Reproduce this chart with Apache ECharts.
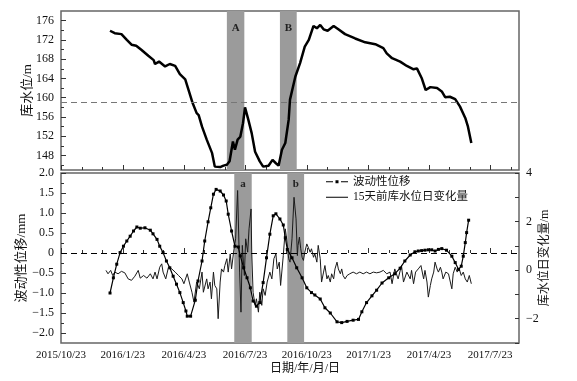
<!DOCTYPE html>
<html><head><meta charset="utf-8">
<script src="https://cdn.jsdelivr.net/npm/echarts@6/dist/echarts.min.js"></script>
<style>html,body{margin:0;padding:0;background:#fff}#c{width:577px;height:381px}</style>
</head><body><div id="c"></div>
<script>
// ---- data (dates are day offsets from baseDate) ----
const baseDate = '2015-10-23';
const endDate = '2017-09-04';
const quarterTicks = ['2015-10-23','2016-01-23','2016-04-23','2016-07-23','2016-10-23','2017-01-23','2017-04-23','2017-07-23'];
const monthTicks = ['2015-11-23','2015-12-23','2016-02-23','2016-03-23','2016-05-23','2016-06-23','2016-08-23','2016-09-23','2016-11-23','2016-12-23','2017-02-23','2017-03-23','2017-05-23','2017-06-23','2017-08-23'];
const levelTicks = [148,152,156,160,164,168,172,176];
const levelMinorTicks = [146,150,154,158,162,166,170,174];
const dispTicks = [-2,-1.5,-1,-0.5,0,0.5,1,1.5,2];
const dispMinorTicks = [-1.75,-1.25,-0.75,-0.25,0.25,0.75,1.25,1.75];
const rateTicks = [-2,0,2,4];
const rateMinorTicks = [-3,-2,-1,0,1,2,3,4];
const levelRef = 159;
const bandsTop = [['A','2016-06-26','2016-07-22'],['B','2016-09-13','2016-10-08']];
const bandsBottom = [['a','2016-07-07','2016-08-02'],['b','2016-09-24','2016-10-19']];

const wlDays = [73,80,90,98,105,112,120,130,138,140,146,155,162,170,177,185,190,196,202,205,210,217,225,229,237,242,247,251,256,259,263,267,271,274,279,284,289,296,301,309,315,320,324,329,334,339,341,349,356,363,369,376,381,386,391,397,406,413,423,438,453,468,480,485,493,505,515,525,530,537,543,550,560,567,572,579,587,594,602,606,611];
const wlLevel = [173.9,173.4,173.2,172.0,171.0,170.8,169.9,168.7,167.8,167.0,167.5,166.5,167.0,166.6,164.9,163.8,161.6,158.9,156.8,156.4,154.0,151.3,148.5,145.7,145.6,145.9,146.1,146.8,150.9,149.2,151.3,151.9,154.7,158.0,155.4,152.6,148.8,146.8,145.7,145.9,147.1,146.4,145.9,149.2,150.6,155.4,159.6,164.4,167.2,170.6,172.0,174.9,174.4,175.1,174.2,173.9,174.9,174.2,173.2,172.3,171.5,171.1,170.3,169.2,168.2,167.5,166.6,165.9,166.1,164.1,161.6,162.2,162.0,161.3,160.1,160.2,159.7,158.2,155.8,154.0,150.6];

const dispObs = [[73,-1.0],[78,-0.62],[83,-0.28],[88,0.01],[93,0.17],[98,0.30],[103,0.42],[108,0.55],[113,0.65],[118,0.62],[125,0.63],[133,0.57],[137,0.48],[143,0.34],[147,0.17],[152,0.01],[157,-0.20],[162,-0.37],[167,-0.58],[172,-0.78],[177,-0.99],[182,-1.24],[186,-1.45],[188,-1.58],[193,-1.58],[200,-1.18],[204,-0.70],[210,-0.20],[214,0.30],[219,0.78],[223,1.13],[227,1.47],[231,1.59],[237,1.55],[242,1.45],[246,1.30],[249,0.97],[254,0.55],[259,0.17],[264,0.15],[267,-0.07],[272,-0.37],[277,-0.62],[282,-0.87],[286,-1.20],[291,-1.33],[296,-1.24],[301,-0.74],[306,-0.12],[311,0.47],[316,0.93],[320,0.98],[326,0.85],[331,0.70],[334,0.38],[337,0.09],[344,-0.12],[351,-0.37],[359,-0.62],[366,-0.87],[373,-0.99],[378,-1.05],[386,-1.15],[393,-1.37],[401,-1.50],[411,-1.72],[418,-1.74],[426,-1.71],[435,-1.68],[443,-1.66],[448,-1.47],[455,-1.24],[463,-1.07],[470,-0.93],[478,-0.75],[488,-0.62],[497,-0.52],[505,-0.38],[512,-0.20],[520,-0.05],[527,0.03],[532,0.05],[537,0.06],[542,0.07],[547,0.08],[552,0.08],[557,0.05],[562,0.09],[567,0.11],[574,0.07],[582,-0.08],[587,-0.24],[592,-0.41],[596,-0.33],[599,-0.08],[602,0.26],[604,0.51],[607,0.82]];

const rateObs = [[67,-0.01],[70,-0.15],[74,-0.01],[77,-0.22],[80,-0.08],[85,-0.15],[90,-0.05],[95,-0.11],[100,-0.36],[105,-0.42],[110,-0.25],[115,-0.01],[118,-0.33],[123,-0.22],[128,-0.33],[133,-0.15],[137,-0.36],[140,-0.08],[143,-0.36],[147,0.12],[150,0.26],[152,-0.08],[156,-0.36],[160,0.12],[165,0.05],[170,-0.08],[175,-0.22],[180,-0.36],[183,-0.56],[188,-0.15],[191,-0.49],[195,-0.91],[198,-1.32],[202,-0.49],[206,-0.77],[210,-0.08],[212,-0.91],[217,-0.36],[219,-0.77],[222,-0.49],[224,-1.18],[227,-0.08],[229,-0.63],[232,-0.77],[234,-2.0],[237,-0.49],[239,0.05],[242,-0.08],[244,0.19],[247,0.47],[249,-0.08],[252,0.67],[254,0.05],[257,0.74],[260,1.29],[263,3.28],[266,-0.08],[268,-1.73],[270,1.02],[273,-0.22],[275,1.29],[278,0.74],[280,1.70],[283,2.52],[284,0.74],[286,-0.91],[289,-1.45],[291,-1.18],[294,-1.73],[296,-0.91],[299,-1.45],[301,-0.77],[304,-1.04],[307,-0.49],[311,-0.08],[314,-0.36],[317,0.47],[320,0.67],[322,0.05],[325,0.33],[327,-0.63],[331,0.60],[334,1.70],[336,1.29],[339,0.47],[341,0.33],[344,1.29],[347,3.0],[350,2.11],[352,0.60],[353,1.02],[355,1.36],[357,0.88],[359,0.53],[361,0.40],[363,0.74],[366,1.08],[368,0.95],[371,0.74],[373,0.88],[376,0.53],[378,0.67],[381,0.33],[383,1.02],[386,0.47],[388,-0.49],[391,-0.08],[393,0.19],[396,-0.36],[398,-0.22],[401,-0.49],[403,-0.15],[406,-0.36],[408,0.05],[411,0.33],[413,0.05],[416,-0.15],[418,0.05],[420,-0.22],[423,-0.36],[426,-0.22],[430,-0.15],[435,-0.08],[440,-0.15],[445,-0.08],[450,-0.15],[455,-0.08],[460,-0.15],[465,-0.08],[470,-0.11],[475,-0.08],[480,-0.01],[485,-0.15],[490,-0.08],[493,-0.56],[497,0.05],[502,-0.36],[507,0.19],[510,-0.49],[515,-0.08],[520,-0.36],[522,-0.01],[525,-0.56],[528,-0.08],[532,0.05],[536,0.19],[540,-0.36],[542,-0.01],[545,-0.49],[547,-1.11],[550,-0.63],[552,-0.36],[555,-0.08],[557,0.33],[560,0.05],[562,-0.08],[565,0.12],[567,-0.08],[569,-0.36],[573,-0.08],[577,-0.15],[582,-0.77],[584,-0.15],[587,0.12],[590,-0.08],[593,0.05],[596,-0.22],[599,-0.08],[602,-0.36],[605,-0.49],[608,-0.22],[611,-0.56]];

// ---- helpers ----
const DAY = 86400000;
const t0 = Date.parse(baseDate);
const ts = d => t0 + d * DAY;
const fmtDate = v => { const d = new Date(v); return d.getUTCFullYear() + '/' + (d.getUTCMonth() + 1) + '/' + d.getUTCDate(); };
const neg = s => String(s).replace('-', '\u2212');
const SERIF = "'Liberation Serif','Times New Roman',serif";
const CJK = "'Liberation Serif','Noto Sans CJK SC',serif";

const xMin = Date.parse(baseDate), xMax = Date.parse(endDate);
const qVals = quarterTicks.map(Date.parse), mVals = monthTicks.map(Date.parse);

function xAx(grid, major, labels) {
  return {
    type: 'value', gridIndex: grid, min: xMin, max: xMax, position: 'bottom',
    splitLine: {show: false}, axisLine: {show: false},
    axisTick: {show: true, inside: true, length: major ? 5 : 3, customValues: major ? qVals : mVals, lineStyle: {color: '#333', width: 1}},
    axisLabel: labels ? {show: true, customValues: qVals, formatter: fmtDate, fontFamily: SERIF, fontSize: 11, color: '#111', margin: 7} : {show: false}
  };
}
function yAx(grid, min, max, ticks, labelVals, fmt, pos, len, extra) {
  return Object.assign({
    type: 'value', gridIndex: grid, min: min, max: max, position: pos,
    splitLine: {show: false}, axisLine: {show: false}, nameMoveOverlap: false,
    axisTick: {show: true, inside: true, length: len, customValues: ticks, lineStyle: {color: '#333', width: 1}},
    axisLabel: labelVals ? {show: true, customValues: labelVals, formatter: fmt, fontFamily: SERIF, fontSize: 12, color: '#111', margin: 7} : {show: false}
  }, extra || {});
}

// legend icons: bounding box 0..22 x 0..10 kept by tiny corner marks
const iconDash = 'path://M0,0h0.05v0.05h-0.05z M0,4.5h7v1h-7z M9.5,3.5h3v3h-3z M15,4.5h7v1h-7z M21.95,9.95h0.05v0.05h-0.05z';
const iconLine = 'path://M0,0h0.05v0.05h-0.05z M0,4.6h22v0.8h-22z M21.95,9.95h0.05v0.05h-0.05z';

const chart = echarts.init(document.getElementById('c'), null, {renderer: 'canvas'});
chart.setOption({
  animation: false,
  backgroundColor: '#fff',
  grid: [
    {left: 61, top: 11, width: 458, height: 159, show: true, borderColor: '#666', borderWidth: 1.5, backgroundColor: 'transparent'},
    {left: 61, top: 173, width: 458, height: 170, show: true, borderColor: '#666', borderWidth: 1.5, backgroundColor: 'transparent'}
  ],
  xAxis: [xAx(0, true, false), xAx(0, false, false), xAx(1, true, true), xAx(1, false, false)],
  yAxis: [
    yAx(0, 145, 178, levelTicks, levelTicks, v => String(v), 'left', 5,
      {name: '库水位/m', nameLocation: 'middle', nameRotate: 90, nameGap: 27, nameTextStyle: {fontFamily: CJK, fontSize: 13, color: '#111'}}),
    yAx(0, 145, 178, levelMinorTicks, null, null, 'left', 3),
    yAx(1, -2.25, 2, dispTicks, dispTicks, v => v === 0 ? '0' : neg(v.toFixed(1)), 'left', 5,
      {name: '波动性位移/mm', nameLocation: 'middle', nameRotate: 90, nameGap: 33, nameTextStyle: {fontFamily: CJK, fontSize: 13, color: '#111'}}),
    yAx(1, -2.25, 2, dispMinorTicks, null, null, 'left', 3),
    yAx(1, -3, 4, rateMinorTicks, rateTicks, v => neg(v), 'right', 4,
      {name: '库水位日变化量/m', nameLocation: 'middle', nameRotate: 90, nameGap: 20, nameTextStyle: {fontFamily: CJK, fontSize: 12, color: '#111'}})
  ],
  legend: {
    orient: 'vertical', left: 321, top: 171, itemGap: 4, itemWidth: 22, itemHeight: 10,
    itemStyle: {color: '#000'},
    data: [{name: '波动性位移', icon: iconDash}, {name: '15天前库水位日变化量', icon: iconLine}],
    textStyle: {fontFamily: CJK, fontSize: 11.5, color: '#111'}
  },
  graphic: [{
    type: 'text', left: 270, top: 363,
    style: {text: '日期/年/月/日', font: "12px 'Liberation Serif','Noto Sans CJK SC'", fill: '#111'}
  }],
  series: [
    {
      type: 'line', name: '库水位', xAxisIndex: 0, yAxisIndex: 0,
      data: wlDays.map((d, i) => [ts(d), wlLevel[i]]),
      showSymbol: false, lineStyle: {color: '#000', width: 2.5}, z: 3,
      markArea: {silent: true, itemStyle: {color: '#9b9b9b'},
        label: {show: true, position: 'insideTop', distance: 12, fontFamily: SERIF, fontWeight: 'bold', fontSize: 11, color: '#222'},
        data: bandsTop.map(b => [{name: b[0], xAxis: Date.parse(b[1])}, {xAxis: Date.parse(b[2])}])},
      markLine: {silent: true, symbol: 'none', label: {show: false},
        lineStyle: {color: '#777', type: [6, 4], width: 1}, data: [{yAxis: levelRef}]}
    },
    {
      type: 'line', name: '15天前库水位日变化量', xAxisIndex: 2, yAxisIndex: 4,
      data: rateObs.map(p => [ts(p[0]), p[1]]),
      showSymbol: false, symbol: 'none', lineStyle: {color: '#1a1a1a', width: 1}, itemStyle: {color: '#000'}, z: 3,
      markArea: {silent: true, itemStyle: {color: '#9b9b9b'},
        label: {show: true, position: 'insideTop', distance: 6, fontFamily: SERIF, fontWeight: 'bold', fontSize: 11, color: '#222'},
        data: bandsBottom.map(b => [{name: b[0], xAxis: Date.parse(b[1])}, {xAxis: Date.parse(b[2])}])}
    },
    {
      type: 'line', name: '波动性位移', xAxisIndex: 2, yAxisIndex: 2,
      data: dispObs.map(p => [ts(p[0]), p[1]]),
      symbol: 'rect', symbolSize: 3, showSymbol: true,
      lineStyle: {color: '#000', width: 1.2}, itemStyle: {color: '#000'}, z: 4,
      markLine: {silent: true, symbol: 'none', label: {show: false},
        lineStyle: {color: '#000', type: [6, 4], width: 1.2}, data: [{yAxis: 0}]}
    }
  ]
});
</script>
</body></html>
